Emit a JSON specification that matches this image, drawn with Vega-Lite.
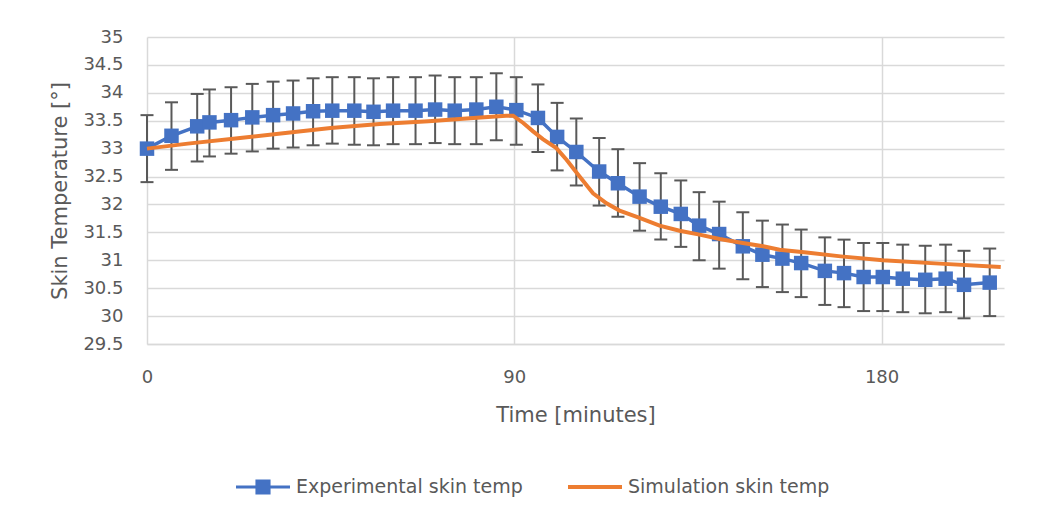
{
  "$schema": "https://vega.github.io/schema/vega-lite/v6.json",
  "width": 857,
  "height": 307,
  "autosize": {"type": "none"},
  "padding": {"left": 147, "top": 37, "right": 39, "bottom": 178},
  "background": "white",
  "config": {
    "view": {"stroke": null},
    "font": "DejaVu Sans",
    "axisY": {"labelOverlap": false, "labelBound": false},
    "legend": {
      "orient": "none",
      "legendX": 89,
      "legendY": 423,
      "direction": "horizontal",
      "padding": 0,
      "symbolSize": 2916,
      "symbolStrokeWidth": 0,
      "symbolOpacity": 1,
      "labelFont": "DejaVu Sans",
      "labelFontSize": 19,
      "labelColor": "#595959",
      "labelOffset": 6,
      "labelLimit": 500,
      "columnPadding": 45
    }
  },
  "datasets": {
    "exp": [
      {"t": 0, "temp": 33.00, "lo": 32.40, "hi": 33.60},
      {"t": 6, "temp": 33.23, "lo": 32.62, "hi": 33.83},
      {"t": 12.3, "temp": 33.40, "lo": 32.77, "hi": 33.98},
      {"t": 15.3, "temp": 33.47, "lo": 32.86, "hi": 34.06},
      {"t": 20.6, "temp": 33.51, "lo": 32.91, "hi": 34.10},
      {"t": 25.8, "temp": 33.56, "lo": 32.95, "hi": 34.16},
      {"t": 30.9, "temp": 33.60, "lo": 33.00, "hi": 34.20},
      {"t": 35.8, "temp": 33.63, "lo": 33.02, "hi": 34.22},
      {"t": 40.7, "temp": 33.67, "lo": 33.06, "hi": 34.26},
      {"t": 45.4, "temp": 33.68, "lo": 33.09, "hi": 34.28},
      {"t": 50.8, "temp": 33.68, "lo": 33.07, "hi": 34.28},
      {"t": 55.5, "temp": 33.66, "lo": 33.06, "hi": 34.26},
      {"t": 60.3, "temp": 33.68, "lo": 33.08, "hi": 34.28},
      {"t": 65.8, "temp": 33.68, "lo": 33.08, "hi": 34.28},
      {"t": 70.6, "temp": 33.70, "lo": 33.10, "hi": 34.31},
      {"t": 75.4, "temp": 33.68, "lo": 33.08, "hi": 34.28},
      {"t": 80.7, "temp": 33.70, "lo": 33.08, "hi": 34.28},
      {"t": 85.6, "temp": 33.75, "lo": 33.15, "hi": 34.35},
      {"t": 90.5, "temp": 33.69, "lo": 33.07, "hi": 34.28},
      {"t": 95.8, "temp": 33.55, "lo": 32.94, "hi": 34.15},
      {"t": 100.5, "temp": 33.21, "lo": 32.61, "hi": 33.82},
      {"t": 105.2, "temp": 32.94, "lo": 32.34, "hi": 33.54},
      {"t": 110.8, "temp": 32.59, "lo": 31.98, "hi": 33.19},
      {"t": 115.4, "temp": 32.38, "lo": 31.78, "hi": 32.99},
      {"t": 120.7, "temp": 32.14, "lo": 31.53, "hi": 32.74},
      {"t": 125.9, "temp": 31.96, "lo": 31.37, "hi": 32.56},
      {"t": 130.8, "temp": 31.83, "lo": 31.24, "hi": 32.43},
      {"t": 135.3, "temp": 31.62, "lo": 31.00, "hi": 32.22},
      {"t": 140.2, "temp": 31.47, "lo": 30.85, "hi": 32.05},
      {"t": 146.0, "temp": 31.25, "lo": 30.66, "hi": 31.86},
      {"t": 150.8, "temp": 31.10, "lo": 30.52, "hi": 31.71},
      {"t": 155.7, "temp": 31.03, "lo": 30.43, "hi": 31.64},
      {"t": 160.3, "temp": 30.95, "lo": 30.34, "hi": 31.55},
      {"t": 166.1, "temp": 30.81, "lo": 30.20, "hi": 31.41},
      {"t": 170.8, "temp": 30.77, "lo": 30.16, "hi": 31.37},
      {"t": 175.6, "temp": 30.70, "lo": 30.09, "hi": 31.31},
      {"t": 180.3, "temp": 30.70, "lo": 30.09, "hi": 31.31},
      {"t": 185.2, "temp": 30.67, "lo": 30.07, "hi": 31.28},
      {"t": 190.7, "temp": 30.65, "lo": 30.05, "hi": 31.26},
      {"t": 195.7, "temp": 30.67, "lo": 30.07, "hi": 31.28},
      {"t": 200.2, "temp": 30.56, "lo": 29.96, "hi": 31.17},
      {"t": 206.5, "temp": 30.60, "lo": 30.00, "hi": 31.21}
    ],
    "sim": [
      {"t": 0, "temp": 33.00},
      {"t": 10, "temp": 33.09},
      {"t": 22.8, "temp": 33.19},
      {"t": 35, "temp": 33.29},
      {"t": 45, "temp": 33.37},
      {"t": 57, "temp": 33.44},
      {"t": 69, "temp": 33.49},
      {"t": 80, "temp": 33.55},
      {"t": 88, "temp": 33.59},
      {"t": 89.7, "temp": 33.59},
      {"t": 92.2, "temp": 33.46},
      {"t": 94.6, "temp": 33.31},
      {"t": 97, "temp": 33.17},
      {"t": 100.3, "temp": 33.01},
      {"t": 102.8, "temp": 32.80},
      {"t": 106, "temp": 32.50},
      {"t": 109.3, "temp": 32.20},
      {"t": 112.6, "temp": 32.02},
      {"t": 115.8, "temp": 31.89},
      {"t": 120.7, "temp": 31.76},
      {"t": 125.6, "temp": 31.62},
      {"t": 130.5, "temp": 31.53},
      {"t": 135.4, "temp": 31.46},
      {"t": 140.3, "temp": 31.38},
      {"t": 146, "temp": 31.31},
      {"t": 151, "temp": 31.25},
      {"t": 155, "temp": 31.19},
      {"t": 161.6, "temp": 31.14},
      {"t": 170, "temp": 31.07},
      {"t": 180.3, "temp": 31.00},
      {"t": 194.2, "temp": 30.94},
      {"t": 209.2, "temp": 30.88}
    ],
    "series": [
      {"series": "Experimental skin temp"},
      {"series": "Simulation skin temp"}
    ]
  },
  "layer": [
    {
      "data": {"name": "exp"},
      "mark": {"type": "rule", "color": "#595959", "strokeWidth": 2},
      "encoding": {
        "x": {
          "field": "t", "type": "quantitative",
          "scale": {"domain": [0, 210], "nice": false, "zero": false},
          "axis": {
            "values": [0, 90, 180],
            "tickCount": 10,
            "title": "Time [minutes]",
            "grid": true, "gridColor": "#d9d9d9", "gridWidth": 1.5,
            "ticks": false,
            "domainColor": "#d9d9d9", "domainWidth": 1.5,
            "labelFont": "DejaVu Sans", "labelFontSize": 18, "labelColor": "#595959",
            "labelPadding": 24, "labelFlush": false,
            "titleFont": "DejaVu Sans", "titleFontSize": 21, "titleFontWeight": "normal", "titleColor": "#595959",
            "titlePadding": 18
          }
        },
        "y": {
          "field": "lo", "type": "quantitative",
          "scale": {"domain": [29.5, 35], "nice": false, "zero": false},
          "axis": {
            "values": [29.5, 30, 30.5, 31, 31.5, 32, 32.5, 33, 33.5, 34, 34.5, 35],
            "tickCount": 20,
            "format": "~g",
            "title": "Skin Temperature [°]",
            "grid": true, "gridColor": "#d9d9d9", "gridWidth": 1.5,
            "ticks": false, "domain": false,
            "labelOverlap": false, "labelBound": false,
            "labelFont": "DejaVu Sans", "labelFontSize": 18, "labelColor": "#595959",
            "labelPadding": 24,
            "titleFont": "DejaVu Sans", "titleFontSize": 21, "titleFontWeight": "normal", "titleColor": "#595959",
            "titlePadding": 12
          }
        },
        "y2": {"field": "hi"}
      }
    },
    {
      "data": {"name": "exp"},
      "mark": {"type": "tick", "orient": "horizontal", "color": "#595959", "size": 13, "thickness": 2, "opacity": 1},
      "encoding": {
        "x": {"field": "t", "type": "quantitative"},
        "y": {"field": "lo", "type": "quantitative"}
      }
    },
    {
      "data": {"name": "exp"},
      "mark": {"type": "tick", "orient": "horizontal", "color": "#595959", "size": 13, "thickness": 2, "opacity": 1},
      "encoding": {
        "x": {"field": "t", "type": "quantitative"},
        "y": {"field": "hi", "type": "quantitative"}
      }
    },
    {
      "data": {"name": "exp"},
      "mark": {"type": "line", "color": "#4472C4", "strokeWidth": 3.5},
      "encoding": {
        "x": {"field": "t", "type": "quantitative"},
        "y": {"field": "temp", "type": "quantitative"}
      }
    },
    {
      "data": {"name": "exp"},
      "mark": {"type": "point", "shape": "square", "filled": true, "size": 210, "color": "#4472C4", "opacity": 1},
      "encoding": {
        "x": {"field": "t", "type": "quantitative"},
        "y": {"field": "temp", "type": "quantitative"}
      }
    },
    {
      "data": {"name": "sim"},
      "mark": {"type": "line", "color": "#ED7D31", "strokeWidth": 4},
      "encoding": {
        "x": {"field": "t", "type": "quantitative"},
        "y": {"field": "temp", "type": "quantitative"}
      }
    },
    {
      "data": {"name": "series"},
      "mark": {"type": "point", "filled": true, "opacity": 0, "size": 2916},
      "encoding": {
        "color": {
          "field": "series", "type": "nominal",
          "scale": {"domain": ["Experimental skin temp", "Simulation skin temp"], "range": ["#4472C4", "#ED7D31"]},
          "legend": {"title": null}
        },
        "shape": {
          "field": "series", "type": "nominal",
          "scale": {"domain": ["Experimental skin temp", "Simulation skin temp"], "range": ["M-1,-0.055H1V0.055H-1Z M-0.28,-0.28H0.28V0.28H-0.28Z", "M-1,-0.075H1V0.075H-1Z"]},
          "legend": {"title": null}
        }
      }
    }
  ]
}
